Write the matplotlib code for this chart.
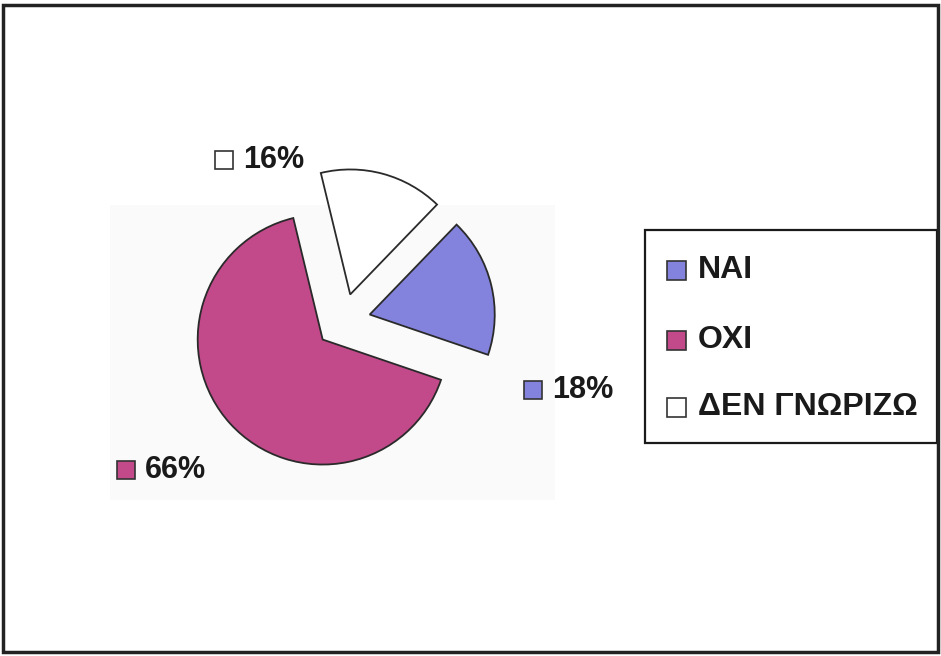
import matplotlib.pyplot as plt
from matplotlib.patches import Rectangle

# survey answers
labels = ['ΝΑΙ', 'ΟΧΙ', 'ΔΕΝ ΓΝΩΡΙΖΩ']
values = [18, 66, 16]
colors = ['#8383dd', '#c2498a', '#ffffff']

W, H = 941, 656
plt.rcParams['font.family'] = ['Liberation Sans', 'DejaVu Sans']

fig = plt.figure(figsize=(W / 100, H / 100), dpi=100)
ax = fig.add_axes([0, 0, 1, 1])

# pixel-like coordinates, y measured from the top
def py(y):
    return H - y

# faint plot area behind the pie
ax.add_patch(Rectangle((110, py(500)), 445, 295, facecolor='#fafafa',
                       edgecolor='none', zorder=0))

# explode is in data units here (radius=125)
wedges, _ = ax.pie(values, colors=colors, startangle=46, counterclock=False,
                   explode=[27.5] * 3, radius=125, center=(343, py(321)),
                   wedgeprops=dict(edgecolor='#2a2a2a', linewidth=1.3),
                   frame=False)
for w in wedges:
    w.set_zorder(2)

ax.set_xlim(0, W)
ax.set_ylim(0, H)
ax.set_aspect('auto')
ax.axis('off')

# percentage labels with colour keys
label_pos = [(524, 390), (117, 470), (215, 160)]
for (x, y), v, c in zip(label_pos, values, colors):
    ax.add_patch(Rectangle((x, py(y) - 9), 18, 18, facecolor=c,
                           edgecolor='#333333', linewidth=1.2, zorder=3))
    ax.text(x + 28, py(y), f'{v}%', fontsize=22, fontweight='bold',
            color='#1a1a1a', va='center', ha='left', zorder=3)

# legend box
ax.add_patch(Rectangle((645, py(443)), 292, 213, facecolor='white',
                       edgecolor='#1a1a1a', linewidth=1.6, zorder=3))
leg_y = [270, 340, 407]
for y, lab, c in zip(leg_y, labels, colors):
    ax.add_patch(Rectangle((667, py(y) - 10), 19, 19, facecolor=c,
                           edgecolor='#333333', linewidth=1.2, zorder=4))
    ax.text(698, py(y), lab, fontsize=23, fontweight='bold',
            color='#1a1a1a', va='center', ha='left', zorder=4)

# outer frame
ax.add_patch(Rectangle((3, 4), 935, 647, facecolor='none',
                       edgecolor='#222222', linewidth=2.5, zorder=5))

fig.savefig('out.png', dpi=100)
